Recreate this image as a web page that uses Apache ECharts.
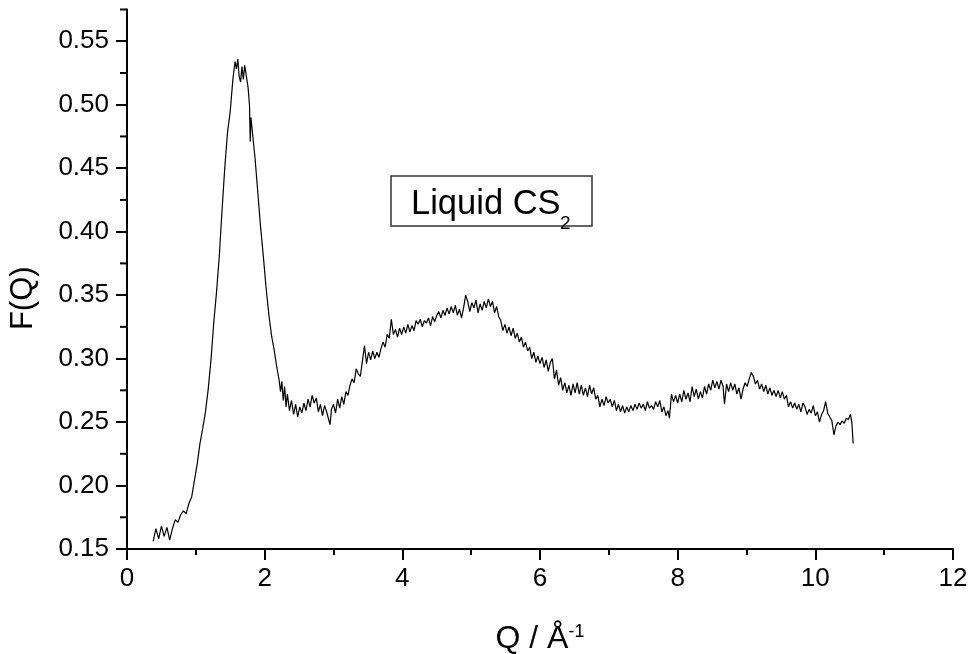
<!DOCTYPE html>
<html>
<head>
<meta charset="utf-8">
<title>Liquid CS2 - F(Q)</title>
<script src="https://cdn.jsdelivr.net/npm/echarts@6/dist/echarts.min.js"></script>
<style>
  html, body { margin: 0; padding: 0; background: #fff; }
  #chart { width: 969px; height: 654px; }
</style>
</head>
<body>
<div id="chart"></div>
<script>
// Q in 1/Å
const qValues = [
  0.38, 0.42, 0.46, 0.50, 0.54, 0.58, 0.62, 0.66, 0.70, 0.74, 0.78, 0.82,
  0.86, 0.90, 0.94, 0.98, 1.02, 1.06, 1.10, 1.14, 1.18, 1.22, 1.26, 1.30,
  1.34, 1.38, 1.42, 1.46, 1.50, 1.54, 1.57, 1.59, 1.61, 1.63, 1.65, 1.67,
  1.69, 1.71, 1.73, 1.76, 1.78, 1.79, 1.80, 1.83, 1.86, 1.90, 1.94, 1.98,
  2.02, 2.06, 2.10, 2.14, 2.18, 2.21, 2.23, 2.25, 2.27, 2.29, 2.31, 2.33,
  2.36, 2.39, 2.42, 2.45, 2.48, 2.51, 2.54, 2.57, 2.60, 2.63, 2.66, 2.69,
  2.72, 2.75, 2.78, 2.81, 2.84, 2.87, 2.90, 2.93, 2.95, 2.97, 3.00, 3.03,
  3.06, 3.09, 3.12, 3.15, 3.18, 3.21, 3.24, 3.27, 3.30, 3.33, 3.36, 3.39,
  3.42, 3.45, 3.48, 3.51, 3.54, 3.57, 3.60, 3.63, 3.66, 3.69, 3.72, 3.75,
  3.78, 3.81, 3.84, 3.87, 3.90, 3.93, 3.96, 3.99, 4.02, 4.05, 4.08, 4.11,
  4.14, 4.17, 4.20, 4.23, 4.26, 4.29, 4.32, 4.35, 4.38, 4.41, 4.44, 4.47,
  4.50, 4.53, 4.56, 4.59, 4.62, 4.65, 4.68, 4.71, 4.74, 4.77, 4.80, 4.83,
  4.86, 4.89, 4.92, 4.95, 4.98, 5.01, 5.04, 5.07, 5.10, 5.13, 5.16, 5.19,
  5.22, 5.25, 5.28, 5.31, 5.34, 5.37, 5.40, 5.43, 5.46, 5.49, 5.52, 5.55,
  5.58, 5.61, 5.64, 5.67, 5.70, 5.73, 5.76, 5.79, 5.82, 5.85, 5.88, 5.91,
  5.94, 5.97, 6.00, 6.03, 6.06, 6.09, 6.12, 6.15, 6.18, 6.21, 6.24, 6.27,
  6.30, 6.33, 6.36, 6.39, 6.42, 6.45, 6.48, 6.51, 6.54, 6.57, 6.60, 6.63,
  6.66, 6.69, 6.72, 6.75, 6.78, 6.81, 6.84, 6.87, 6.90, 6.93, 6.96, 6.99,
  7.02, 7.05, 7.08, 7.11, 7.14, 7.17, 7.20, 7.23, 7.26, 7.29, 7.32, 7.35,
  7.38, 7.41, 7.44, 7.47, 7.50, 7.53, 7.56, 7.59, 7.62, 7.65, 7.68, 7.71,
  7.74, 7.77, 7.80, 7.83, 7.86, 7.88, 7.91, 7.94, 7.97, 8.00, 8.03, 8.06,
  8.09, 8.12, 8.15, 8.18, 8.21, 8.24, 8.27, 8.30, 8.33, 8.36, 8.39, 8.42,
  8.45, 8.48, 8.51, 8.54, 8.57, 8.60, 8.63, 8.66, 8.68, 8.71, 8.74, 8.77,
  8.80, 8.83, 8.86, 8.89, 8.92, 8.95, 8.98, 9.01, 9.04, 9.07, 9.10, 9.13,
  9.16, 9.19, 9.22, 9.25, 9.28, 9.31, 9.34, 9.37, 9.40, 9.43, 9.46, 9.49,
  9.52, 9.55, 9.58, 9.61, 9.64, 9.67, 9.70, 9.73, 9.76, 9.79, 9.82, 9.85,
  9.88, 9.91, 9.94, 9.97, 10.00, 10.03, 10.06, 10.09, 10.12, 10.15, 10.18, 10.21,
  10.24, 10.27, 10.30, 10.33, 10.36, 10.39, 10.42, 10.45, 10.48, 10.51, 10.53, 10.55
]

// F(Q), same order as qValues
const fValues = [
  0.156, 0.166, 0.158, 0.168, 0.160, 0.167, 0.157, 0.166, 0.173, 0.171, 0.177, 0.180,
  0.178, 0.186, 0.191, 0.204, 0.217, 0.233, 0.245, 0.258, 0.276, 0.299, 0.328, 0.352,
  0.380, 0.416, 0.450, 0.478, 0.495, 0.521, 0.534, 0.528, 0.536, 0.522, 0.518, 0.530,
  0.520, 0.531, 0.524, 0.513, 0.499, 0.471, 0.490, 0.474, 0.458, 0.431, 0.404, 0.381,
  0.356, 0.335, 0.318, 0.306, 0.292, 0.283, 0.274, 0.282, 0.267, 0.278, 0.262, 0.272,
  0.259, 0.267, 0.256, 0.264, 0.254, 0.262, 0.257, 0.265, 0.259, 0.268, 0.262, 0.271,
  0.265, 0.269, 0.258, 0.264, 0.255, 0.263, 0.258, 0.252, 0.248, 0.260, 0.264, 0.257,
  0.268, 0.261, 0.270, 0.264, 0.274, 0.271, 0.279, 0.284, 0.281, 0.292, 0.288, 0.286,
  0.298, 0.310, 0.296, 0.305, 0.299, 0.306, 0.300, 0.305, 0.301, 0.308, 0.313, 0.309,
  0.319, 0.316, 0.331, 0.319, 0.323, 0.317, 0.324, 0.319, 0.325, 0.320, 0.327, 0.321,
  0.326, 0.322, 0.330, 0.327, 0.331, 0.325, 0.330, 0.328, 0.332, 0.326, 0.333, 0.329,
  0.334, 0.337, 0.332, 0.338, 0.334, 0.340, 0.335, 0.341, 0.336, 0.342, 0.334, 0.339,
  0.332, 0.340, 0.350, 0.345, 0.337, 0.344, 0.340, 0.346, 0.336, 0.343, 0.338, 0.345,
  0.340, 0.347, 0.341, 0.345, 0.336, 0.341, 0.333, 0.330, 0.322, 0.327, 0.320, 0.325,
  0.318, 0.324, 0.316, 0.320, 0.313, 0.317, 0.309, 0.313, 0.306, 0.309, 0.300, 0.305,
  0.297, 0.302, 0.296, 0.301, 0.293, 0.299, 0.290, 0.297, 0.300, 0.284, 0.291, 0.279,
  0.285, 0.275, 0.281, 0.273, 0.279, 0.271, 0.280, 0.273, 0.281, 0.272, 0.279, 0.271,
  0.277, 0.270, 0.279, 0.272, 0.277, 0.268, 0.271, 0.262, 0.268, 0.263, 0.270, 0.265,
  0.268, 0.262, 0.267, 0.259, 0.264, 0.258, 0.263, 0.257, 0.262, 0.258, 0.263, 0.259,
  0.264, 0.260, 0.265, 0.261, 0.264, 0.259, 0.266, 0.261, 0.263, 0.260, 0.266, 0.262,
  0.267, 0.258, 0.262, 0.255, 0.259, 0.253, 0.272, 0.266, 0.271, 0.265, 0.272, 0.266,
  0.275, 0.268, 0.273, 0.266, 0.278, 0.270, 0.276, 0.268, 0.274, 0.269, 0.278, 0.272,
  0.280, 0.275, 0.283, 0.277, 0.282, 0.276, 0.283, 0.278, 0.264, 0.280, 0.274, 0.281,
  0.275, 0.280, 0.272, 0.277, 0.268, 0.276, 0.281, 0.278, 0.284, 0.289, 0.286, 0.280,
  0.283, 0.276, 0.280, 0.274, 0.279, 0.272, 0.277, 0.271, 0.275, 0.270, 0.275, 0.269,
  0.274, 0.268, 0.271, 0.262, 0.266, 0.261, 0.265, 0.260, 0.264, 0.258, 0.265, 0.262,
  0.256, 0.260, 0.257, 0.263, 0.255, 0.258, 0.250, 0.256, 0.259, 0.266, 0.257, 0.254,
  0.251, 0.240, 0.247, 0.250, 0.248, 0.251, 0.249, 0.253, 0.252, 0.256, 0.250, 0.233
]

const xMajorTicks = [0, 2, 4, 6, 8, 10, 12]
const yMajorTicks = [0.15, 0.20, 0.25, 0.30, 0.35, 0.40, 0.45, 0.50, 0.55]
const yMinorTicks = [0.175, 0.225, 0.275, 0.325, 0.375, 0.425, 0.475, 0.525, 0.575]

const font = 'Liberation Sans, Arial, Helvetica, sans-serif'
const gridLeft = 127
const gridRight = 16
const gridTop = 9.5
const gridBottom = 105

let myChart = echarts.init(document.getElementById('chart'))

let lineData = qValues.map((q, i) => [q, fValues[i]])

let tickStyle = { color: '#000', width: 2 }

// the framed label inside the plot
let annotation = [
  {
    type: 'rect',
    shape: { x: 391, y: 176, width: 201, height: 50 },
    style: { fill: '#fff', stroke: '#333', lineWidth: 1.5 },
    z: 10,
  },
  {
    type: 'text',
    x: 411,
    y: 204,
    style: { text: 'Liquid CS', fontSize: 34.5, fontFamily: font, fill: '#000', verticalAlign: 'middle' },
    z: 11,
  },
  {
    type: 'text',
    x: 560,
    y: 224,
    style: { text: '2', fontSize: 19, fontFamily: font, fill: '#000', verticalAlign: 'middle' },
    z: 11,
  },
]

let option = {
  animation: false,
  backgroundColor: '#fff',
  grid: {
    left: gridLeft,
    right: gridRight,
    top: gridTop,
    bottom: gridBottom,
    containLabel: false,
    outerBoundsMode: 'none',
  },
  xAxis: {
    type: 'value',
    min: 0,
    max: 12,
    interval: 2,
    axisLine: { show: true, lineStyle: tickStyle },
    axisTick: { show: true, length: 11, lineStyle: tickStyle, customValues: xMajorTicks },
    minorTick: { show: true, splitNumber: 2, length: 6, lineStyle: tickStyle },
    axisLabel: {
      color: '#000',
      fontSize: 26,
      fontFamily: font,
      margin: 17,
      customValues: xMajorTicks,
    },
    splitLine: { show: false },
    name: '{b|Q / Å}{sup|-1}',
    nameLocation: 'middle',
    nameGap: 74,
    nameTextStyle: {
      color: '#000',
      fontFamily: font,
      rich: {
        b: { fontSize: 32, fontFamily: font, color: '#000', lineHeight: 32 },
        sup: { fontSize: 18, fontFamily: font, color: '#000', verticalAlign: 'top', lineHeight: 8 },
      },
    },
  },
  yAxis: {
    type: 'value',
    min: 0.15,
    max: 0.575,
    interval: 0.05,
    axisLine: { show: true, lineStyle: tickStyle },
    axisTick: { show: true, length: 11, lineStyle: tickStyle, customValues: yMajorTicks },
    axisLabel: {
      color: '#000',
      fontSize: 26,
      fontFamily: font,
      margin: 18,
      customValues: yMajorTicks,
      formatter: (v) => v.toFixed(2),
    },
    splitLine: { show: false },
    name: 'F(Q)',
    nameLocation: 'middle',
    nameGap: 88,
    nameRotate: 90,
    nameTextStyle: { color: '#000', fontSize: 31, fontFamily: font, padding: [0, 38, 0, 0] },
  },
  graphic: annotation,
  series: [
    {
      type: 'line',
      data: lineData,
      showSymbol: false,
      symbol: 'none',
      lineStyle: { color: '#000', width: 1.2 },
      silent: true,
    },
  ],
}

myChart.setOption(option)

// short ticks on the y axis, placed through the axis scale
let axisX = myChart.convertToPixel({ xAxisIndex: 0 }, 0)
let minorTicks = yMinorTicks.map((v) => {
  let y = myChart.convertToPixel({ yAxisIndex: 0 }, v)
  return {
    type: 'line',
    shape: { x1: axisX - 7, y1: y, x2: axisX, y2: y },
    style: { stroke: '#000', lineWidth: 2 },
  }
})
myChart.setOption({ graphic: annotation.concat(minorTicks) })
</script>
</body>
</html>
